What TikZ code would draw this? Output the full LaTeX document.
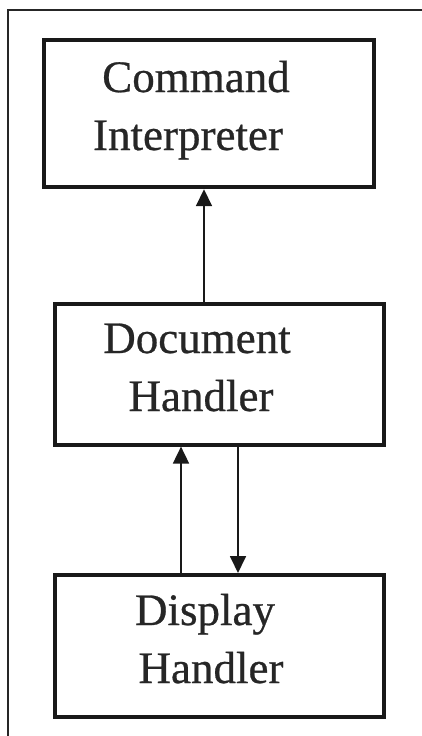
\documentclass[tikz,border=0pt]{standalone}
\usepackage{fontspec}
\setmainfont{Liberation Serif}
\newfontfamily\lblfont{Liberation Serif}[UprightFeatures={FakeBold=0.6}]
\usetikzlibrary{arrows.meta}
\begin{document}
\begin{tikzpicture}[x=1pt,y=-1pt,
  box/.style={draw=black!90, line width=3.6pt, inner sep=0pt, anchor=north west},
  lbl/.style={anchor=base, inner sep=0pt, font=\lblfont\fontsize{45}{54}\selectfont, text=black!85},
  conn/.style={draw=black!90, line width=1.8pt, -{Triangle[length=17pt,width=16pt]}},
  frame/.style={draw=black!85, line width=1.5pt}]
\useasboundingbox (0,0) rectangle (422,736);
\coordinate (fa) at (8,736);
\coordinate (fb) at (8,10);
\coordinate (fc) at (422,10);
\draw[frame] (fa) -- (fb) -- (fc);
\node[box, line width=4.2pt, minimum width=330pt, minimum height=147pt] (ci) at (42,38) {};
\node[box, minimum width=329pt, minimum height=141pt] (dh) at (53,302) {};
\node[box, minimum width=329pt, minimum height=142pt] (dp) at (53,573) {};
\node[lbl] (t1) at (196,92) {Command};
\node[lbl] (t2) at (188,150) {Interpreter};
\node[lbl] (t3) at (197,353) {Document};
\node[lbl] (t4) at (201,411) {Handler};
\node[lbl] (t5) at (205,625) {Display};
\node[lbl] (t6) at (211,683) {Handler};
\draw[conn] (dh.north west) ++(151,0) coordinate (a1) -- (a1 |- ci.south);
\draw[conn] (dp.north west) ++(128,0) coordinate (a2) -- (a2 |- dh.south);
\draw[conn] (dh.south west) ++(185,0) coordinate (a3) -- (a3 |- dp.north);
\end{tikzpicture}
\end{document}
